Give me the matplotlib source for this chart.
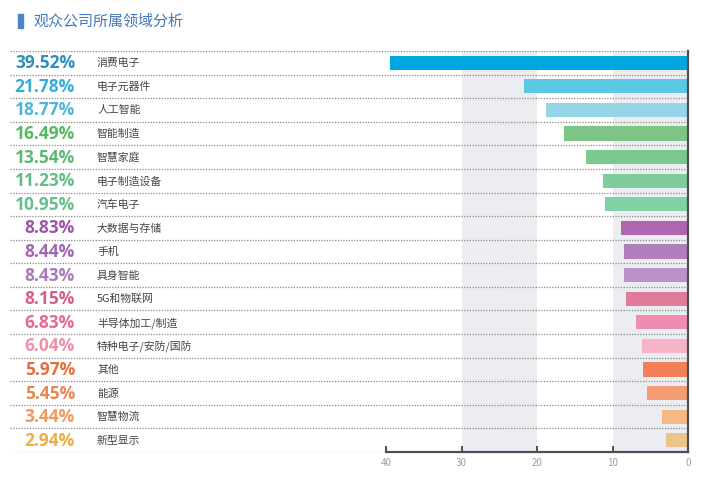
import matplotlib.pyplot as plt
from matplotlib.patches import Rectangle
import matplotlib.transforms as mtransforms

plt.rcParams['font.family'] = ['Noto Sans CJK SC', 'DejaVu Sans']

# data
categories = ['消费电子', '电子元器件', '人工智能', '智能制造', '智慧家庭', '电子制造设备',
              '汽车电子', '大数据与存储', '手机', '具身智能', '5G和物联网', '半导体加工/制造',
              '特种电子/安防/国防', '其他', '能源', '智慧物流', '新型显示']
shares = [39.52, 21.78, 18.77, 16.49, 13.54, 11.23, 10.95, 8.83, 8.44, 8.43,
          8.15, 6.83, 6.04, 5.97, 5.45, 3.44, 2.94]
bar_colors = ['#00a6e0', '#5bc8e4', '#95d5e8', '#7dc585', '#7cc98f', '#7ecd9c',
              '#82d0a6', '#b066ae', '#b07dbd', '#ba92c8', '#e27b9a', '#f08cb0',
              '#f6b4c6', '#f28059', '#f59c73', '#f8b882', '#ebc48a']
text_colors = ['#2f8fbc', '#35aed6', '#4db6d8', '#5ab862', '#5cb874', '#62bd86',
               '#66c08c', '#9a55a5', '#a066ae', '#a77ab9', '#d85e88', '#e26a92',
               '#ee90a8', '#e66e3e', '#ea8650', '#ef9a5e', '#efae44']
ticks = [40, 30, 20, 10, 0]

W, H = 720, 483
fig = plt.figure(figsize=(W / 100, H / 100), dpi=100)

# axes spans the dotted row lines; value 40 sits at x=386px, value 0 at x=688px
ax_l, ax_r, ax_t, ax_b = 10, 688, 51, 452
ax = fig.add_axes([ax_l / W, 1 - ax_b / H, (ax_r - ax_l) / W, (ax_b - ax_t) / H])
px_per_unit = (688 - 386) / 40
ax.set_xlim((ax_r - ax_l) / px_per_unit, 0)
n = len(categories)
ax.set_ylim(n - 0.5, -0.5)

# shaded bands
for lo, hi in [(20, 30), (0, 10)]:
    ax.axvspan(lo, hi, color='#ebedf1', zorder=0, lw=0)

# dotted separators
for i in range(n + 1):
    ax.axhline(i - 0.5, color='#8a8a8a', lw=0.9, ls=(0, (1, 1.2)), zorder=1)

ypos = list(range(n))
ax.barh(ypos, shares, height=0.6, color=bar_colors, zorder=2)

tr = mtransforms.blended_transform_factory(fig.transFigure, ax.transData)
for y, v, c, tc in zip(ypos, shares, categories, text_colors):
    ax.text(75 / W, y + 0.02, f'{v:.2f}%', transform=tr, ha='right', va='center',
            fontsize=12.5, fontweight='bold', color=tc, family=['Open Sans', 'DejaVu Sans'])
    ax.text(97 / W, y + 0.02, c, transform=tr, ha='left', va='center',
            fontsize=7.8, color='#444444')

for s in ['top', 'left']:
    ax.spines[s].set_visible(False)
ax.spines['right'].set_color('#4a4f58')
ax.spines['right'].set_linewidth(1.6)
ax.spines['bottom'].set_color('#4a4f58')
ax.spines['bottom'].set_linewidth(1.6)
ax.spines['bottom'].set_bounds(0, 40)
ax.spines['bottom'].set_zorder(3)
ax.set_yticks([])
ax.set_xticks(ticks)
ax.set_xticklabels([str(t) for t in ticks])
ax.tick_params(axis='x', direction='in', length=4, width=1.4, color='#4a4f58',
               labelsize=7, labelcolor='#a0a0a0', pad=4)

# title
fig.patches.append(Rectangle((18 / W, 1 - 28 / H), 5 / W, 14 / H,
                             transform=fig.transFigure, color='#4a86c8'))
fig.text(33 / W, 1 - 21 / H, '观众公司所属领域分析', fontsize=10.8, color='#3f78b8',
         ha='left', va='center')

fig.savefig('out.png', dpi=100)
